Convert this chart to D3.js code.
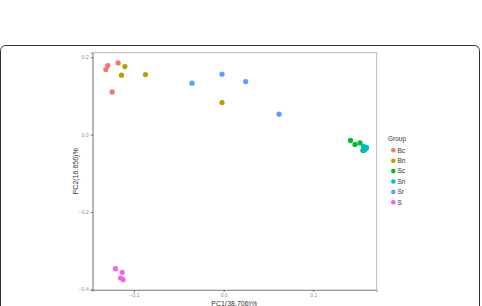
<!DOCTYPE html>
<html><head><meta charset="utf-8">
<script src="https://cdn.jsdelivr.net/npm/d3@7"></script>
<style>body{margin:0;background:#fff;}svg{display:block;font-family:"Liberation Sans",Arial,sans-serif;}</style>
</head><body>
<svg id="c" width="482" height="306"></svg>
<script>
const groups = ["Bc","Bn","Sc","Sn","Sr","S"];
const colors = ["#F8766D","#B79F00","#00BA38","#00BFC4","#619CFF","#F564E3"];
const xTicks = [-0.1, 0.0, 0.1];
const yTicks = [0.2, 0.0, -0.2, -0.4];
const pc1 = {
  Bc: [-0.1314,-0.1292,-0.1177,-0.1244],
  Bn: [-0.1102,-0.1140,-0.0872,-0.0018],
  Sc: [0.1416,0.1466,0.1522,0.1555],
  Sn: [0.1561,0.1589,0.1572,0.1594],
  Sr: [-0.0353,-0.0018,0.0246,0.0619],
  S:  [-0.1207,-0.1132,-0.1151,-0.1121]
};
const pc2 = {
  Bc: [0.1682,0.1785,0.1855,0.1105],
  Bn: [0.1759,0.1537,0.1552,0.0828],
  Sc: [-0.0150,-0.0254,-0.0215,-0.0409],
  Sn: [-0.0305,-0.0357,-0.0396,-0.0331],
  Sr: [0.1330,0.1563,0.1371,0.0528],
  S:  [-0.3467,-0.3560,-0.3708,-0.3752]
};

const svg = d3.select("#c");
svg.append("rect").attr("x",0.5).attr("y",45.5).attr("width",479).attr("height",280)
  .attr("rx",5).attr("fill","#fff").attr("stroke","#333").attr("stroke-width",1);

const L=92.7,R=376.7,T=52.7,B=290;
const x = d3.scaleLinear().domain([-0.1461,0.1708]).range([L,R]);
const y = d3.scaleLinear().domain([-0.4018,0.2119]).range([B,T]);

svg.append("rect").attr("x",L).attr("y",T).attr("width",R-L).attr("height",B-T)
  .attr("fill","#fff").attr("stroke","#bbb").attr("stroke-width",1);

const fmt = d => d===0 ? "0.0" : d3.format(".1f")(d);
const xa = svg.append("g").attr("transform",`translate(0,${B})`)
  .call(d3.axisBottom(x).tickValues(xTicks).tickFormat(fmt).tickSize(2).tickPadding(1));
const ya = svg.append("g").attr("transform",`translate(${L},0)`)
  .call(d3.axisLeft(y).tickValues(yTicks).tickFormat(fmt).tickSize(2).tickPadding(2));
[xa,ya].forEach(a=>{
  a.select(".domain").attr("stroke","#999");
  a.selectAll(".tick line").attr("stroke","#666");
  a.selectAll(".tick text").attr("fill","#888").style("font-size","5px");
});

svg.append("text").attr("x",(L+R)/2-0.5).attr("y",305.5).attr("text-anchor","middle")
  .attr("fill","#333").style("font-size","7px").text("PC1(38.706)%");
svg.append("text").attr("transform",`translate(78,${(T+B)/2}) rotate(-90)`).attr("text-anchor","middle")
  .attr("fill","#333").style("font-size","7px").text("PC2(16.656)%");

const color = d3.scaleOrdinal().domain(groups).range(colors);
groups.forEach(g=>{
  svg.append("g").selectAll("circle").data(pc1[g].map((v,i)=>[v,pc2[g][i]])).join("circle")
    .attr("cx",d=>x(d[0])).attr("cy",d=>y(d[1])).attr("r",2.6).attr("fill",color(g));
});

const lg = svg.append("g");
lg.append("text").attr("x",388).attr("y",141).attr("fill","#333").style("font-size","6.5px").text("Group");
groups.forEach((g,i)=>{
  const yy = 150.3 + i*10.4;
  lg.append("circle").attr("cx",393.3).attr("cy",yy).attr("r",2.3).attr("fill",color(g));
  lg.append("text").attr("x",397.5).attr("y",yy+2.2).attr("fill","#333").style("font-size","6.5px").text(g);
});
</script>
</body></html>
